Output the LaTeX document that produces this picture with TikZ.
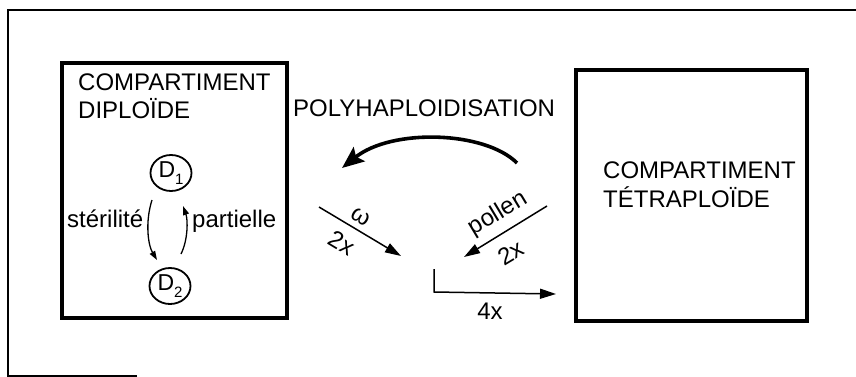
\documentclass[tikz,border=0pt]{standalone}
\usepackage{fontspec}
\setmainfont{Liberation Sans}
\usetikzlibrary{arrows.meta,shapes.geometric}
\newcommand{\sublow}[1]{\raisebox{-0.28em}{\fontsize{15}{15}\selectfont #1}}
\begin{document}
\begin{tikzpicture}[x=1pt,y=-1pt,
  txt/.style={inner sep=0pt,anchor=base west,font=\fontsize{24}{28}\selectfont},
  midtxt/.style={inner sep=0pt,font=\fontsize{24}{28}\selectfont},
  compart/.style={draw,line width=3.2pt,inner sep=0pt},
  cell/.style={draw,ellipse,line width=1.8pt,inner sep=0pt,minimum width=41pt,minimum height=36pt,font=\fontsize{23}{26}\selectfont},
  thin/.style={line width=1.3pt,-{Triangle[length=9pt,width=6pt]}},
  flux/.style={line width=1.5pt,-{Triangle[length=16pt,width=10pt]}},
  bigflux/.style={line width=3.6pt,-{Stealth[length=22pt,width=18pt,inset=4pt]}}]
\useasboundingbox (0,0) rectangle (856,377);

% outer frame
\draw[line width=2.2pt] (137,376) -- (8,376) -- (8,10) -- (856,10);

% the two compartments
\node[compart,minimum width=225pt,minimum height=255pt] (dip) at (174.5,190.5) {};
\node[compart,minimum width=231pt,minimum height=251pt] (tet) at (691.5,195.5) {};

\node[txt] (dipA) at (78,91) {COMPARTIMENT};
\node[txt] (dipB) at (78,119) {DIPLOÏDE};
\node[txt] (tetA) at (603,178) {COMPARTIMENT};
\node[txt] (tetB) at (603,207) {TÉTRAPLOÏDE};

% cells inside the diploid compartment
\node[cell] (d1) at (171,173) {D\sublow{1}};
\node[cell] (d2) at (170,286) {D\sublow{2}};

\coordinate (s1) at (152,200);
\coordinate (s2) at (157,260);
\coordinate (p1) at (181,254);
\coordinate (p2) at (183,206);
\draw[thin] (s1) .. controls (145,222) and (148,245) .. (s2);
\draw[thin] (p1) .. controls (188,240) and (188,220) .. (p2);
\node[txt] (ster) at (67,227) {stérilité};
\node[txt] (part) at (192,227) {partielle};

% polyhaploidisation
\node[txt] (poly) at (293,117) {POLYHAPLOIDISATION};
\coordinate (ph1) at (517,163);
\coordinate (ph2) at (342,168);
\draw[bigflux] (ph1) .. controls (485,131) and (392,128) .. (ph2);

% gametes 2x meeting
\coordinate (o1) at (319,207);
\coordinate (o2) at (401,256);
\draw[flux] (o1) -- (o2);
\node[midtxt,rotate=-31] (om) at (361,217) {ω};
\node[midtxt,rotate=-31] (om2) at (342,243) {2x};

\coordinate (q1) at (547,206);
\coordinate (q2) at (464,257);
\draw[flux] (q1) -- (q2);
\node[midtxt,rotate=31] (pol) at (498,214) {pollen};
\node[midtxt,rotate=31] (pol2) at (511,253) {2x};

% tetraploid product
\coordinate (t0) at (434,269);
\coordinate (t1) at (434,292);
\coordinate (t2) at (556,294);
\draw[line width=1.5pt,-{Triangle[length=16pt,width=10pt]}] (t0) -- (t1) -- (t2);
\node[midtxt] (four) at (490,311) {4x};
\end{tikzpicture}
\end{document}
